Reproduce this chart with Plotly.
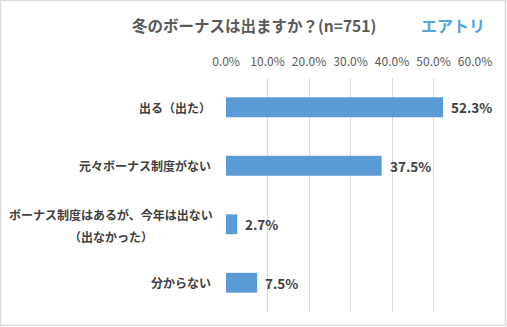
import plotly.graph_objects as go

categories = ["出る（出た）", "元々ボーナス制度がない", "ボーナス制度はあるが、今年は出ない<br>（出なかった）", "分からない"]
values = [52.3, 37.5, 2.7, 7.5]
tick_vals = [0, 10, 20, 30, 40, 50, 60]
tick_text = ["0.0%", "10.0%", "20.0%", "30.0%", "40.0%", "50.0%", "60.0%"]
title_text = "冬のボーナスは出ますか？(n=751)"
logo_text = "エアトリ"

W, H = 507, 327
L, R, T, B = 226, 32, 78, 15
pw, ph = W - L - R, H - T - B

JP = "Noto Sans CJK JP, Meiryo, sans-serif"
LINE_GAP = 22

fig = go.Figure(go.Bar(
    y=categories, x=values, orientation="h",
    marker=dict(color="#5b9bd5", line=dict(width=0)),
    width=0.34, hoverinfo="skip",
))

annotations = []
for c, v in zip(categories, values):
    lines = c.split("<br>")
    n = len(lines)
    for i, ln in enumerate(lines):
        shift = ((n - 1) / 2 - i) * LINE_GAP - (1 if n > 1 else 0)
        annotations.append(dict(x=0, xref="paper", y=c, yref="y", text=ln, showarrow=False,
                                xanchor="center" if n > 1 else "right",
                                xshift=-13 - (102 if n > 1 else 0), yshift=shift,
                                font=dict(family=JP, size=12, color="#404040", weight="bold")))
    annotations.append(dict(x=v, xref="x", y=c, yref="y", text=f"{v:.1f}%", showarrow=False,
                            xanchor="left", xshift=6,
                            font=dict(family=JP, size=13.5, color="#404040", weight="bold")))

annotations.append(dict(x=(W / 2 - L) / pw, xref="paper", y=1 + (T - 25) / ph, yref="paper",
                        text=title_text, showarrow=False, xanchor="center", yanchor="middle",
                        font=dict(family=JP, size=15.5, color="#595959", weight="bold")))
annotations.append(dict(x=(453 - L) / pw, xref="paper", y=1 + (T - 25) / ph, yref="paper",
                        text=logo_text, showarrow=False, xanchor="center", yanchor="middle",
                        font=dict(family=JP, size=16, color="#4ea6de", weight="bold")))

fig.update_layout(
    width=W, height=H,
    margin=dict(l=L, r=R, t=T, b=B),
    paper_bgcolor="white", plot_bgcolor="white",
    showlegend=False,
    annotations=annotations,
    xaxis=dict(range=[0, 60], side="top", tickvals=tick_vals, ticktext=tick_text,
               showgrid=True, gridcolor="#d9d9d9", gridwidth=1, zeroline=False,
               showline=False, ticks="outside", ticklen=6, tickcolor="rgba(0,0,0,0)",
               tickfont=dict(family=JP, size=12, color="#595959"), fixedrange=True),
    yaxis=dict(categoryorder="array", categoryarray=categories, autorange="reversed",
               showticklabels=False, showgrid=False, zeroline=False, showline=False,
               fixedrange=True),
    shapes=[dict(type="rect", xref="paper", yref="paper",
                 x0=(-L + 0.5) / pw, x1=(pw + R - 1.5) / pw,
                 y0=(-B + 1.5) / ph, y1=(ph + T - 0.5) / ph,
                 line=dict(color="#d9d9d9", width=1.5), layer="below")],
)

fig.write_html("out.html")
